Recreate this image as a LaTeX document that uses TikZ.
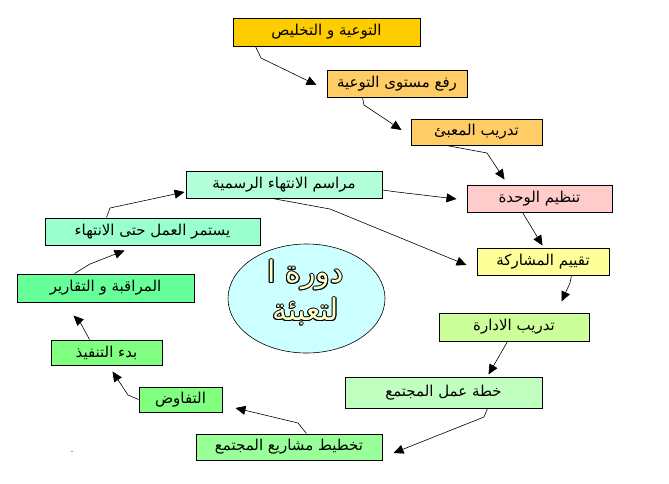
\documentclass[tikz,border=0pt]{standalone}
\usepackage{fontspec}
\TeXXeTstate=1
\newfontfamily\arabicfont[Script=Arabic]{DejaVu Sans}
\usetikzlibrary{calc,arrows.meta,shapes.geometric}
\newcommand\artxt[1]{\beginR #1\endR}
\definecolor{cB1}{HTML}{FFCC00}
\definecolor{cB2}{HTML}{FFCC66}
\definecolor{cB3}{HTML}{FFCC66}
\definecolor{cB4}{HTML}{FFCCCC}
\definecolor{cB5}{HTML}{FFFF99}
\definecolor{cB6}{HTML}{CCFF99}
\definecolor{cB7}{HTML}{C0FFC0}
\definecolor{cB8}{HTML}{99FF99}
\definecolor{cB9}{HTML}{80FF80}
\definecolor{cB10}{HTML}{80FF80}
\definecolor{cB11}{HTML}{66FF99}
\definecolor{cB12}{HTML}{99FFCC}
\definecolor{cB13}{HTML}{B3FFD9}
\definecolor{cEll}{HTML}{CCFFFF}
\definecolor{cTxt}{HTML}{FFFFCC}
\begin{document}
\begin{tikzpicture}[x=1pt,y=-1pt,
  stepbox/.style={draw=black,line width=1pt,inner sep=0pt,
    font=\arabicfont\fontsize{15}{17}\selectfont},
  ctext/.style={align=center,inner sep=0pt,font=\arabicfont\fontsize{30}{38}\selectfont},
  arr/.style={line width=0.6pt,-{Triangle[length=10pt,width=9pt]}}]
\useasboundingbox (0,0) rectangle (669,483);
\node[stepbox,fill=cB1,minimum width=187pt,minimum height=28pt] (b1) at (326.5,32) {\artxt{التوعية و التخليص}};
\node[stepbox,fill=cB2,minimum width=140pt,minimum height=27pt] (b2) at (397,83.5) {\artxt{رفع مستوى التوعية}};
\node[stepbox,fill=cB3,minimum width=131pt,minimum height=26pt] (b3) at (476.5,132) {\artxt{تدريب المعبئ}};
\node[stepbox,fill=cB4,minimum width=145pt,minimum height=27pt] (b4) at (539.5,198.5) {\artxt{تنظيم الوحدة}};
\node[stepbox,fill=cB5,minimum width=132pt,minimum height=27pt] (b5) at (543,261.5) {\artxt{تقييم المشاركة}};
\node[stepbox,fill=cB6,minimum width=150pt,minimum height=28pt] (b6) at (514,327) {\artxt{تدريب الادارة}};
\node[stepbox,fill=cB7,minimum width=197pt,minimum height=31pt] (b7) at (443.5,392.5) {\artxt{خطة عمل المجتمع}};
\node[stepbox,fill=cB8,minimum width=186pt,minimum height=26pt] (b8) at (289,447) {\artxt{تخطيط مشاريع المجتمع}};
\node[stepbox,fill=cB9,minimum width=83pt,minimum height=25pt] (b9) at (180.5,399.5) {\artxt{التفاوض}};
\node[stepbox,fill=cB10,minimum width=111pt,minimum height=25pt] (b10) at (106.5,352.5) {\artxt{بدء التنفيذ}};
\node[stepbox,fill=cB11,minimum width=177pt,minimum height=28pt] (b11) at (105.5,288) {\artxt{المراقبة و التقارير}};
\node[stepbox,fill=cB12,minimum width=215pt,minimum height=27pt] (b12) at (152.5,231.5) {\artxt{يستمر العمل حتى الانتهاء}};
\node[stepbox,fill=cB13,minimum width=196pt,minimum height=27pt] (b13) at (284,184.5) {\artxt{مراسم الانتهاء الرسمية}};
% centre ellipse
\node[draw=black,line width=0.6pt,fill=cEll,ellipse,minimum width=157pt,minimum height=109pt,inner sep=0pt] (ell) at (306.5,298.5) {};
\foreach \dx/\dy [count=\k] in {1/0,-1/0,0/1,0/-1,0.7/0.7,-0.7/0.7,0.7/-0.7,-0.7/-0.7}{
  \node[ctext,text=black] (sh\k) at ($(ell.center)+(\dx-1,\dy-6)$) {\artxt{دورة ا}\\\artxt{لتعبئة}};
}
\node[ctext,text=cTxt] (ctitle) at ($(ell.center)+(-1,-6)$) {\artxt{دورة ا}\\\artxt{لتعبئة}};
% connectors
\draw[arr] ([xshift=23pt]b1.south west) -- (261,58) -- ($(b2.west)+(-10,1.5)$);
\draw[arr] ([xshift=36pt]b2.south west) -- (364,105) -- ($(b3.west)+(-9,-2)$);
\draw[arr] ([xshift=36pt]b3.south west) -- (487,153) -- ($(b4.north west)+(38,-5)$);
\draw[arr] ([xshift=56pt]b4.south west) -- ($(b5.north west)+(66,-2)$);
\draw[arr] ([xshift=95pt]b5.south west) -- (570,283) -- ($(b6.north west)+(123,-11)$);
\draw[arr] ([xshift=69pt]b6.south west) -- ($(b7.north west)+(144,-2)$);
\draw[arr] ([xshift=143pt]b7.south west) -- (484,417) -- ($(b8.east)+(11,6)$);
\draw[arr] ([xshift=111pt]b8.north west) -- (298,423) -- ($(b9.east)+(13,8.5)$);
\draw[arr] (b9.west) -- (128,395) -- ($(b10.south west)+(62,6)$);
\draw[arr] ([xshift=39pt]b10.north west) -- (80,322) -- ($(b11.south west)+(57,13)$);
\draw[arr] ([xshift=58pt]b11.north west) -- (90,264) -- ($(b12.south west)+(80,5)$);
\draw[arr] ([xshift=62pt]b12.north west) -- (110,208) -- ($(b13.west)+(-1,7.5)$);
\draw[arr] ($(b13.east)+(0,5.5)$) -- (397,192) -- ($(b4.west)+(-10,0.5)$);
\draw[arr] ([xshift=87pt]b13.south west) -- (330,209) -- ($(b5.west)+(-10,3.5)$);
\node[inner sep=0pt,font=\fontsize{11}{13}\selectfont] (dot) at (72,452) {.};
\end{tikzpicture}
\end{document}
